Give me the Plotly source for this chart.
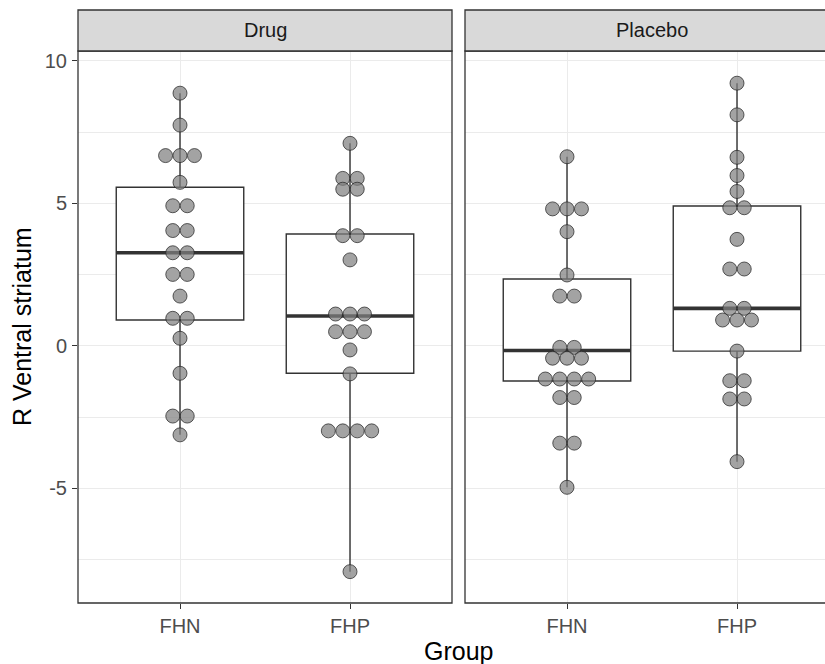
import plotly.graph_objects as go
from collections import Counter

# ---------------- data ----------------
panels = ["Drug", "Placebo"]
groups = ["FHN", "FHP"]

drug_fhn = [8.87, 7.75, 6.68, 6.68, 6.68, 5.74, 4.92, 4.92, 4.05, 4.05, 3.27, 3.27,
            2.51, 2.51, 1.75, 0.97, 0.97, 0.27, -0.96, -2.46, -2.46, -3.12]
drug_fhp = [7.11, 5.88, 5.88, 5.50, 5.50, 3.87, 3.87, 3.02, 1.12, 1.12, 1.12, 0.50,
            0.50, 0.50, -0.14, -0.98, -2.98, -2.98, -2.98, -2.98, -7.92]
placebo_fhn = [6.64, 4.81, 4.81, 4.81, 4.01, 2.49, 1.75, 1.75, -0.05, -0.05, -0.43,
               -0.43, -0.43, -1.16, -1.16, -1.16, -1.16, -1.81, -1.81, -3.41, -3.41, -4.96]
placebo_fhp = [9.22, 8.11, 6.62, 5.98, 5.42, 4.85, 4.85, 3.74, 2.70, 2.70, 1.32, 1.32,
               0.91, 0.91, 0.91, -0.18, -1.22, -1.22, -1.86, -1.86, -4.06]

# box statistics per panel, order FHN, FHP
drug_lower = [-3.12, -7.92]
drug_q1 = [0.91, -0.96]
drug_median = [3.27, 1.05]
drug_q3 = [5.57, 3.93]
drug_upper = [8.87, 7.11]

placebo_lower = [-4.96, -4.06]
placebo_q1 = [-1.23, -0.18]
placebo_median = [-0.16, 1.32]
placebo_q3 = [2.35, 4.91]
placebo_upper = [6.64, 9.22]

y_tick_vals = [-5, 0, 5, 10]
y_tick_text = ["-5", "0", "5", "10"]

# ---------------- styling ----------------
FONT = "Liberation Sans, Arial, sans-serif"
DARK = "#333333"
GRID = "#EBEBEB"
STRIP_FILL = "#D9D9D9"
BOX_W = 0.75
DOT_STEP = 0.085  # horizontal stacking step in data units

W, H = 825, 664
ML, MR, MT, MB = 78, 0, 51, 664 - 603
PW = W - ML - MR
PH = H - MT - MB
px_per_unit = 170.0
left_dom = [0, 374 / PW]
right_dom = [(465 - ML) / PW, 1]
right_range = [0.4, 0.4 + (W - 465) / px_per_unit]

fig = go.Figure()

panel_data = [
    ("x", "y", [drug_fhn, drug_fhp], drug_lower, drug_q1, drug_median, drug_q3, drug_upper),
    ("x2", "y2", [placebo_fhn, placebo_fhp], placebo_lower, placebo_q1, placebo_median,
     placebo_q3, placebo_upper),
]

for xa, ya, vals, lo, q1, med, q3, up in panel_data:
    xs = [1, 2]
    fig.add_trace(go.Box(
        x=xs, lowerfence=lo, q1=q1, median=med, q3=q3, upperfence=up,
        width=BOX_W, whiskerwidth=0, boxpoints=False,
        fillcolor="white", line=dict(color=DARK, width=1.4),
        xaxis=xa, yaxis=ya, showlegend=False, hoverinfo="skip",
    ))
    for gi, m in zip(xs, med):
        fig.add_trace(go.Scatter(
            x=[gi - BOX_W / 2, gi + BOX_W / 2], y=[m, m], mode="lines",
            line=dict(color=DARK, width=3.6), xaxis=xa, yaxis=ya,
            showlegend=False, hoverinfo="skip",
        ))
    dx, dy = [], []
    for gi, v in zip(xs, vals):
        cnt = Counter(v)
        for val, n in cnt.items():
            for i in range(n):
                dx.append(gi + (i - (n - 1) / 2) * DOT_STEP)
                dy.append(val)
    fig.add_trace(go.Scatter(
        x=dx, y=dy, mode="markers",
        marker=dict(size=14, color="rgba(128,128,128,0.72)",
                    line=dict(color="rgba(40,40,40,0.75)", width=1)),
        xaxis=xa, yaxis=ya, showlegend=False, hoverinfo="skip",
    ))

yrange = [-9.02, 10.35]
common_y = dict(range=yrange, showgrid=True, gridcolor=GRID, gridwidth=1.1,
                zeroline=False, showline=False, tickvals=y_tick_vals,
                minor=dict(tick0=2.5, dtick=5, showgrid=True, gridcolor=GRID, gridwidth=0.6))
common_x = dict(tickvals=[1, 2], ticktext=groups, showgrid=True, gridcolor=GRID,
                gridwidth=1.1, zeroline=False, showline=False, ticks="outside",
                ticklen=5, tickwidth=1.1, tickcolor=DARK,
                tickfont=dict(family=FONT, size=20, color="#4D4D4D"))

fig.update_layout(
    width=W, height=H,
    margin=dict(l=ML, r=MR, t=MT, b=MB, autoexpand=False),
    paper_bgcolor="white", plot_bgcolor="white",
    showlegend=False,
    xaxis=dict(domain=left_dom, range=[0.4, 2.6], anchor="y", **common_x),
    xaxis2=dict(domain=right_dom, range=right_range, anchor="y2", **common_x),
    yaxis=dict(domain=[0, 1], anchor="x", ticktext=y_tick_text, ticks="outside",
               ticklen=5, tickwidth=1.1, tickcolor=DARK, ticklabelstandoff=1,
               tickfont=dict(family=FONT, size=20, color="#4D4D4D"), **common_y),
    yaxis2=dict(domain=[0, 1], anchor="x2", matches="y", showticklabels=False,
                ticks="", **common_y),
)

strip_h = 41 / PH
shapes = []
x0l, x1l = left_dom
shapes.append(dict(type="rect", xref="paper", yref="paper", x0=x0l, x1=x1l, y0=0, y1=1,
                   line=dict(color=DARK, width=1.3), fillcolor="rgba(0,0,0,0)", layer="above"))
shapes.append(dict(type="rect", xref="paper", yref="paper", x0=x0l, x1=x1l, y0=1, y1=1 + strip_h,
                   line=dict(color=DARK, width=1.3), fillcolor=STRIP_FILL, layer="above"))
x0r = right_dom[0]
x1r = (465 + 374 - ML) / PW
shapes.append(dict(type="rect", xref="paper", yref="paper", x0=x0r, x1=x1r, y0=0, y1=1,
                   line=dict(color=DARK, width=1.3), fillcolor="rgba(0,0,0,0)", layer="above"))
shapes.append(dict(type="rect", xref="paper", yref="paper", x0=x0r, x1=x1r, y0=1, y1=1 + strip_h,
                   line=dict(color=DARK, width=1.3), fillcolor=STRIP_FILL, layer="above"))
fig.update_layout(shapes=shapes)

annotations = [
    dict(text=panels[0], xref="paper", yref="paper", x=(x0l + x1l) / 2, y=1 + strip_h / 2,
         showarrow=False, xanchor="center", yanchor="middle",
         font=dict(family=FONT, size=20, color="#1A1A1A")),
    dict(text=panels[1], xref="paper", yref="paper", x=(x0r + x1r) / 2, y=1 + strip_h / 2,
         showarrow=False, xanchor="center", yanchor="middle",
         font=dict(family=FONT, size=20, color="#1A1A1A")),
    dict(text="Group", xref="paper", yref="paper", x=(458 - ML) / PW, y=(603 - 651) / PH,
         showarrow=False, xanchor="center", yanchor="middle",
         font=dict(family=FONT, size=25, color="black")),
    dict(text="R Ventral striatum", xref="paper", yref="paper", x=(22 - ML) / PW, y=0.5,
         textangle=-90, showarrow=False, xanchor="center", yanchor="middle",
         font=dict(family=FONT, size=25, color="black")),
]
fig.update_layout(annotations=annotations)

fig.write_html(
    "out.html",
    config={"displayModeBar": False},
    post_script="document.body.style.margin='0';document.body.style.overflow='hidden';",
)
